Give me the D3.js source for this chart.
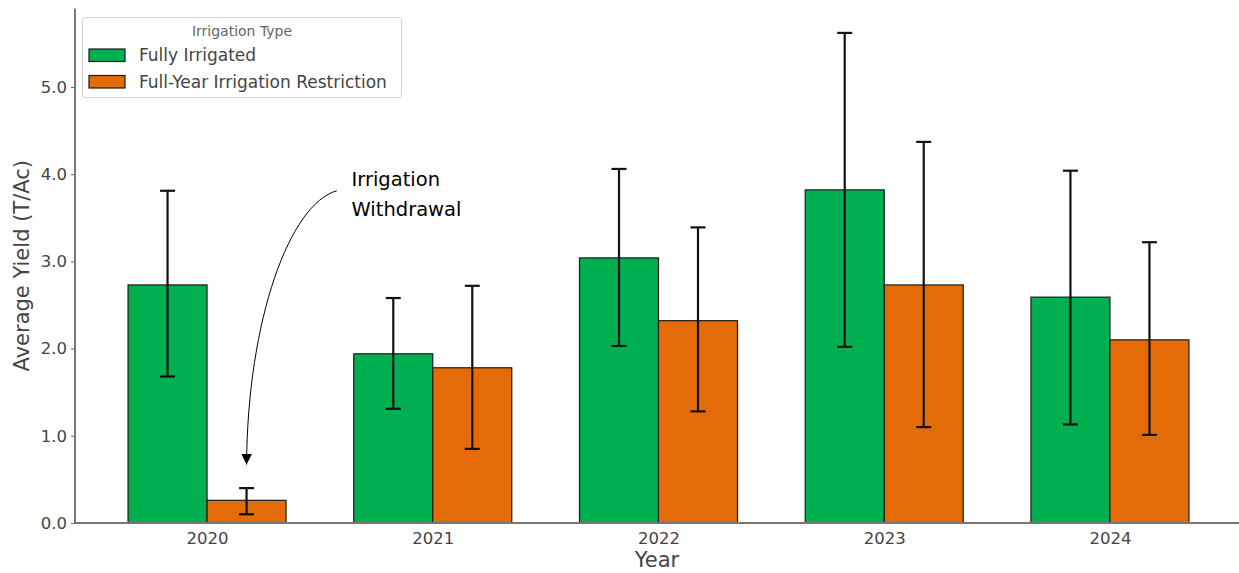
<!DOCTYPE html>
<html>
<head>
<meta charset="utf-8">
<script src="https://d3js.org/d3.v7.min.js"></script>
<style>
body{margin:0;background:#fff;}
svg text{font-family:"DejaVu Sans",sans-serif;}
</style>
</head>
<body>
<div id="chart"></div>
<script>
var years = ["2020","2021","2022","2023","2024"];
var seriesNames = ["Fully Irrigated","Full-Year Irrigation Restriction"];
var fullMean = [2.73, 1.94, 3.04, 3.82, 2.59];
var fullLow  = [1.68, 1.31, 2.03, 2.02, 1.13];
var fullHigh = [3.81, 2.58, 4.06, 5.62, 4.04];
var restMean = [0.26, 1.78, 2.32, 2.73, 2.10];
var restLow  = [0.10, 0.85, 1.28, 1.10, 1.01];
var restHigh = [0.40, 2.72, 3.39, 4.37, 3.22];
var yTicks = [0, 1, 2, 3, 4, 5];
var colors = ["#00b050","#e36c09"];

var W = 1239, H = 573;
var barW = 0.35;

var svg = d3.select("#chart").append("svg").attr("width",W).attr("height",H);

var x = d3.scaleLinear().domain([-0.585, 4.585]).range([75, 1242]);
var y = d3.scaleLinear().domain([0, 5.9]).range([523, 8.5]);

// bars
var Bars = [];
for(var i=0;i<years.length;i++){
    Bars.push({"pos":i - barW/2,"v":fullMean[i],"lo":fullLow[i],"hi":fullHigh[i],"s":0});
    Bars.push({"pos":i + barW/2,"v":restMean[i],"lo":restLow[i],"hi":restHigh[i],"s":1});
}

svg.append("g").selectAll("rect")
    .data(Bars)
    .enter()
    .append("rect")
        .attr("x",function(d){return x(d.pos - barW/2);})
        .attr("width",function(d){return x(barW) - x(0);})
        .attr("y",function(d){return y(d.v);})
        .attr("height",function(d){return y(0) - y(d.v);})
        .attr("fill",function(d){return colors[d.s];})
        .attr("stroke","#1a1a1a")
        .attr("stroke-width",1.2);

// error bars
var err = svg.append("g").attr("stroke","#111").attr("stroke-width",2.2);
var eb = err.selectAll("g").data(Bars).enter().append("g");
eb.append("line")
    .attr("x1",function(d){return x(d.pos);})
    .attr("x2",function(d){return x(d.pos);})
    .attr("y1",function(d){return y(d.lo);})
    .attr("y2",function(d){return y(d.hi);});
eb.append("line")
    .attr("x1",function(d){return x(d.pos)-7.5;})
    .attr("x2",function(d){return x(d.pos)+7.5;})
    .attr("y1",function(d){return y(d.hi);})
    .attr("y2",function(d){return y(d.hi);});
eb.append("line")
    .attr("x1",function(d){return x(d.pos)-7.5;})
    .attr("x2",function(d){return x(d.pos)+7.5;})
    .attr("y1",function(d){return y(d.lo);})
    .attr("y2",function(d){return y(d.lo);});

// axes
var yAxis = svg.append("g")
    .attr("transform","translate(75,0)")
    .call(d3.axisLeft(y).tickValues(yTicks).tickFormat(d3.format(".1f")).tickSize(4).tickPadding(4));
yAxis.select(".domain").attr("stroke","#777").attr("stroke-width",2).attr("d","M0,"+y(5.9)+"V"+y(0));
yAxis.selectAll(".tick line").attr("stroke","#777").attr("stroke-width",1.2);
yAxis.selectAll(".tick text").attr("font-size","16.5px").attr("fill","#444").attr("font-family","DejaVu Sans");

var xAxis = svg.append("g")
    .attr("transform","translate(0,"+y(0)+")")
    .call(d3.axisBottom(x).tickValues(d3.range(years.length)).tickFormat(function(d){return years[d];}).tickSize(0).tickPadding(9));
xAxis.select(".domain").attr("stroke","#777").attr("stroke-width",2).attr("d","M74,0H1239");
xAxis.selectAll(".tick text").attr("font-size","16.5px").attr("fill","#444").attr("font-family","DejaVu Sans");

svg.append("text")
    .attr("x",657).attr("y",567)
    .attr("text-anchor","middle")
    .attr("font-size","21px").attr("fill","#444")
    .text("Year");

svg.append("text")
    .attr("transform","translate(29,"+y(2.95)+") rotate(-90)")
    .attr("text-anchor","middle")
    .attr("font-size","21px").attr("fill","#444")
    .text("Average Yield (T/Ac)");

// legend
var lg = svg.append("g");
lg.append("rect")
    .attr("x",82.5).attr("y",17.5).attr("width",319).attr("height",80)
    .attr("rx",3).attr("fill","#fff").attr("stroke","#d0d0d0");
lg.append("text")
    .attr("x",242).attr("y",36)
    .attr("text-anchor","middle").attr("font-size","14px").attr("fill","#666")
    .text("Irrigation Type");
var li = lg.selectAll("g.it").data(seriesNames).enter().append("g")
    .attr("transform",function(d,i){return "translate(0,"+(i*26.5)+")";});
li.append("rect")
    .attr("x",89).attr("y",49).attr("width",36).attr("height",12.5)
    .attr("fill",function(d,i){return colors[i];})
    .attr("stroke","#1a1a1a").attr("stroke-width",1.2);
li.append("text")
    .attr("x",139).attr("y",61)
    .attr("font-size","17px").attr("fill","#444")
    .text(function(d){return d;});

// annotation
var ann = svg.append("g");
var defs = svg.append("defs");
defs.append("marker")
    .attr("id","ah").attr("viewBox","0 0 10 10")
    .attr("refX",10).attr("refY",5)
    .attr("markerWidth",11).attr("markerHeight",11)
    .attr("markerUnits","userSpaceOnUse")
    .attr("orient","auto")
    .append("path").attr("d","M0,0L10,5L0,10z").attr("fill","#000");

var p0 = [x(0.575), y(3.81)], p3 = [x(0.175), y(0.67)];
var path = d3.path();
path.moveTo(p0[0], p0[1]);
path.bezierCurveTo(p0[0]-47, p0[1]+13, p3[0]+1, p3[1]-145, p3[0], p3[1]);
ann.append("path")
    .attr("d",path.toString())
    .attr("fill","none").attr("stroke","#000").attr("stroke-width",1)
    .attr("marker-end","url(#ah)");

ann.append("text")
    .attr("x",x(0.64)).attr("y",y(3.87))
    .attr("font-family","Open Sans").attr("font-size","19.5px").attr("fill","#000")
    .text("Irrigation");
ann.append("text")
    .attr("x",x(0.64)).attr("y",y(3.52))
    .attr("font-family","Open Sans").attr("font-size","19.5px").attr("fill","#000")
    .text("Withdrawal");
</script>
</body>
</html>
